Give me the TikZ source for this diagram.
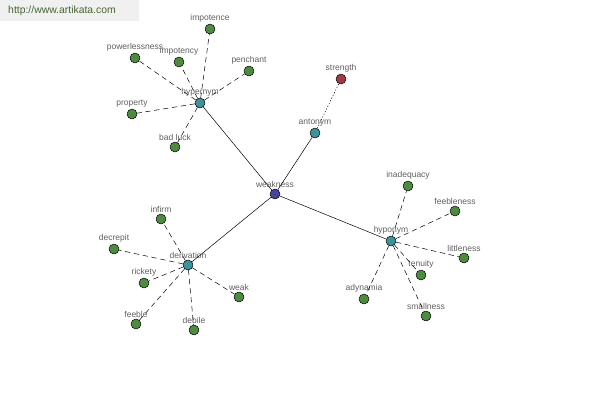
\documentclass[tikz,border=0pt]{standalone}
\usepackage{fontspec}
\setmainfont{Liberation Sans}
\usepackage{tikz}
\usetikzlibrary{positioning}
\definecolor{leafgreen}{RGB}{78,139,64}
\definecolor{hubteal}{RGB}{62,146,154}
\definecolor{rootblue}{RGB}{68,68,160}
\definecolor{antired}{RGB}{160,60,70}
\definecolor{wordgray}{RGB}{95,95,95}
\definecolor{markgreen}{RGB}{70,100,50}

\begin{document}
\begin{tikzpicture}[line cap=round,line join=round,x=1pt,y=-1pt,
  dot/.style={circle,draw=black,line width=0.5pt,minimum size=10pt,inner sep=0pt,
    label distance=1pt},
  word/.style={font=\fontsize{8.5}{9}\selectfont,text=wordgray,inner sep=1pt},
  leaf/.style={dot,fill=leafgreen},
  hub/.style={dot,fill=hubteal},
  link/.style={line width=0.5pt},
  rel/.style={line width=0.5pt,dash pattern=on 5pt off 4pt}]
%  \draw[step=50,gray,very thin] (0,0) grid (600,400);

\useasboundingbox (0,0) rectangle (600,400);
\fill[gray!12] (0,0) rectangle (139,21);
\node[font=\fontsize{10.4}{11}\selectfont,text=markgreen] (site) at (62,11) {http://www.artikata.com};

% hubs
\node[dot,fill=rootblue,label={[word]above:weakness}] (weak0) at (275,194) {};
\node[hub,label={[word]above:hypernym}] (hyper) at (200,103) {};
\node[hub,label={[word]above:antonym}] (anto) at (315,133) {};
\node[hub,label={[word]above:hyponym}] (hypo) at (391,241) {};
\node[hub,label={[word]above:derivation}] (deriv) at (188,265) {};
\node[dot,fill=antired,label={[word]above:strength}] (strength) at (341,79) {};

% hypernym words
\node[leaf,label={[word]above:impotence}] (h1) at (210,29) {};
\node[leaf,label={[word]above:powerlessness}] (h2) at (135,58) {};
\node[leaf,label={[word]above:impotency}] (h3) at (179,62) {};
\node[leaf,label={[word]above:penchant}] (h4) at (249,71) {};
\node[leaf,label={[word]above:property}] (h5) at (132,114) {};
\node[leaf,label={[word]above:bad luck}] (h6) at (175,147) {};

% derivation words
\node[leaf,label={[word]above:infirm}] (d1) at (161,219) {};
\node[leaf,label={[word]above:decrepit}] (d2) at (114,249) {};
\node[leaf,label={[word]above:rickety}] (d3) at (144,283) {};
\node[leaf,label={[word]above:feeble}] (d4) at (136,324) {};
\node[leaf,label={[word]above:debile}] (d5) at (194,330) {};
\node[leaf,label={[word]above:weak}] (d6) at (239,297) {};

% hyponym words
\node[leaf,label={[word]above:inadequacy}] (p1) at (408,186) {};
\node[leaf,label={[word]above:feebleness}] (p2) at (455,211) {};
\node[leaf,label={[word]above:littleness}] (p3) at (464,258) {};
\node[leaf,label={[word]above:tenuity}] (p4) at (421,275) {};
\node[leaf,label={[word]above:smallness}] (p5) at (426,316) {};
\node[leaf,label={[word]above:adynamia}] (p6) at (364,299) {};

\draw[link] (weak0) -- (hyper);
\draw[link] (weak0) -- (anto);
\draw[link] (weak0) -- (hypo);
\draw[link] (weak0) -- (deriv);
\draw[line width=0.5pt,dash pattern=on 1pt off 2pt] (anto) -- (strength);

\foreach \w in {h1,h2,h3,h4,h5,h6}
  \draw[rel] (hyper) -- (\w);
\foreach \w in {d1,d2,d3,d4,d5,d6}
  \draw[rel] (deriv) -- (\w);
\foreach \w in {p1,p2,p3,p4,p5,p6}
  \draw[rel] (hypo) -- (\w);

\end{tikzpicture}
\end{document}
